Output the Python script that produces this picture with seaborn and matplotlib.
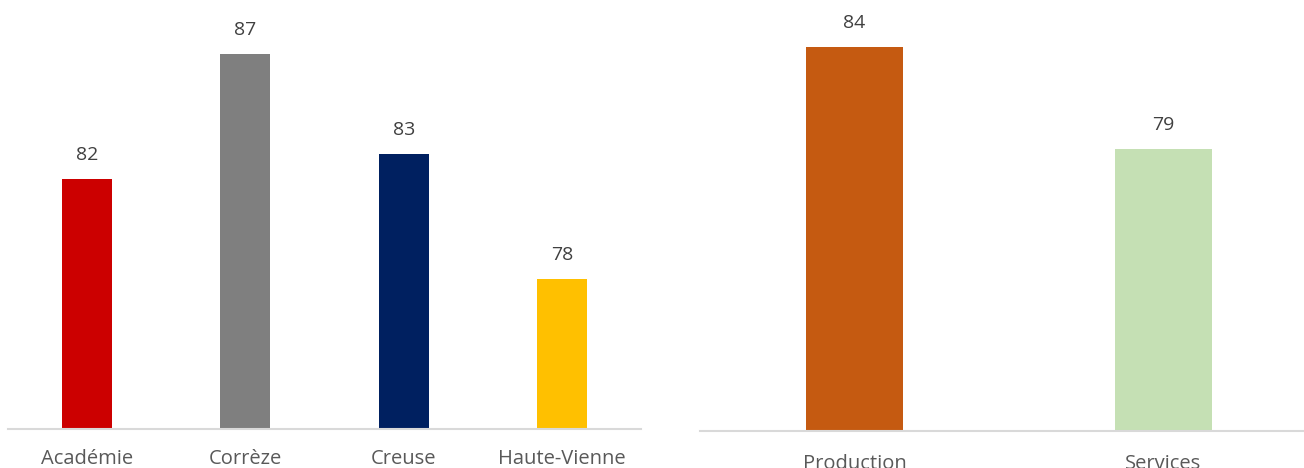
import matplotlib
matplotlib.use("Agg")
import matplotlib.pyplot as plt
import seaborn as sns
import pandas as pd

# Data
zones = ["Académie", "Corrèze", "Creuse", "Haute-Vienne"]
zone_values = [82, 87, 83, 78]
zone_colors = ["#CC0000", "#7F7F7F", "#002060", "#FFC000"]

domaines = ["Production", "Services"]
domaine_values = [84, 79]
domaine_colors = ["#C55A11", "#C5E0B4"]

sns.set_theme(style="white")
plt.rcParams["font.family"] = ["Open Sans", "DejaVu Sans"]

W, H = 1304, 468
fig = plt.figure(figsize=(W / 100, H / 100), dpi=100)

def px_axes(x0, x1, ybase):
    return fig.add_axes([x0 / W, (H - ybase) / H, (x1 - x0) / W, ybase / H])

ax1 = px_axes(8, 641, 429)
ax2 = px_axes(700, 1318, 430.5)

def draw(ax, cats, vals, cols, ylim, width, labelpad):
    df = pd.DataFrame({"cat": cats, "val": vals})
    sns.barplot(data=df, x="cat", y="val", hue="cat", palette=cols,
                order=cats, hue_order=cats, legend=False, width=width,
                saturation=1, linewidth=0, ax=ax)
    ax.set_ylim(*ylim)
    ax.set_xlim(-0.5, len(cats) - 0.5)
    ax.set_xlabel("")
    ax.set_ylabel("")
    ax.set_yticks([])
    for s in ["top", "right", "left"]:
        ax.spines[s].set_visible(False)
    ax.spines["bottom"].set_color("#D9D9D9")
    ax.spines["bottom"].set_linewidth(1.5)
    ax.tick_params(axis="x", length=0, pad=labelpad, labelsize=14.5,
                   labelcolor="#595959")
    ax.patch.set_alpha(0)
    for i, v in enumerate(vals):
        ax.annotate(f"{v}", (i, v), xytext=(0, 11), textcoords="offset points",
                    ha="center", va="bottom", fontsize=14, color="#404040",
                    annotation_clip=False)

draw(ax1, zones, zone_values, zone_colors, (72, 89.16), 0.316, 14.5)
draw(ax2, domaines, domaine_values, domaine_colors, (65.2, 86.3), 0.314, 17)

fig.savefig("out.png", dpi=100)
